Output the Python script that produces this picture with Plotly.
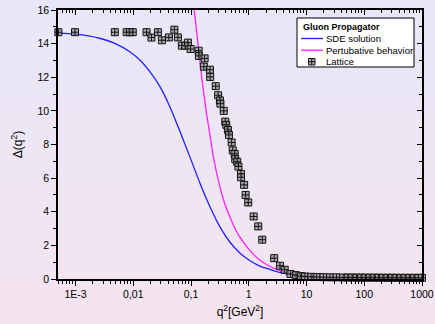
import plotly.graph_objects as go

# ---- data ----
sde_q2 = [0.0005, 0.001, 0.0026, 0.0048, 0.0087, 0.013, 0.0194, 0.029, 0.043, 0.064,
          0.096, 0.143, 0.213, 0.317, 0.47, 0.70, 1.04, 1.49, 2.17, 3.17, 4.6, 6.7,
          17, 56, 200, 1000]
sde_val = [14.62, 14.56, 14.32, 14.02, 13.52, 13.03, 12.33, 11.44, 10.25, 8.8,
           7.25, 5.7, 4.3, 3.1, 2.2, 1.55, 1.1, 0.8, 0.6, 0.42, 0.3, 0.2,
           0.08, 0.025, 0.007, 0.0015]

pert_q2 = [0.1135, 0.120, 0.152, 0.185, 0.21, 0.240, 0.296, 0.387, 0.47,
           0.577, 0.70, 1.04, 1.49, 2.17, 3.17, 4.6, 6.7, 17, 56, 200, 1000]
pert_val = [16.0, 15.3, 12.1, 9.9, 8.7, 7.4, 5.9, 4.45, 3.7,
            3.0, 2.5, 1.7, 1.18, 0.8, 0.54, 0.37, 0.25, 0.095, 0.028, 0.008, 0.0015]

lat_q2 = [0.000505, 0.00098, 0.0048, 0.0077, 0.0087, 0.0098, 0.017, 0.0207, 0.0267,
          0.0313, 0.0414, 0.0515, 0.0593, 0.0695, 0.0794, 0.0883, 0.0984, 0.1355,
          0.137, 0.172, 0.167, 0.213, 0.215, 0.268, 0.295, 0.317, 0.323, 0.369,
          0.392, 0.408, 0.436, 0.454, 0.506, 0.528, 0.570, 0.583, 0.632, 0.663,
          0.733, 0.735, 0.832, 0.883, 0.980, 1.215, 1.461, 1.715, 2.755, 3.47,
          4.19, 5.28, 6.58, 8.03, 9.43, 12, 15, 19.6, 25.5, 33, 43, 52, 62, 74,
          88, 105, 125, 150, 178, 212, 253, 302, 360, 430, 512, 611, 729, 870, 1000]
lat_val = [14.68, 14.68, 14.68, 14.68, 14.68, 14.68, 14.68, 14.36, 14.68,
           14.20, 14.37, 14.83, 14.37, 13.88, 13.88, 14.06, 13.68, 13.58,
           13.27, 13.12, 12.63, 12.45, 12.02, 11.47, 10.93, 10.62, 10.43, 10.0,
           9.36, 9.17, 8.87, 8.57, 8.12, 7.65, 7.44, 7.13, 6.97, 6.69,
           6.25, 6.05, 5.60, 5.0, 4.55, 3.72, 3.13, 2.34, 1.24, 0.79,
           0.55, 0.30, 0.23, 0.17, 0.15, 0.13, 0.12, 0.11, 0.10, 0.10, 0.09, 0.09, 0.09, 0.085,
           0.085, 0.08, 0.08, 0.08, 0.08, 0.075, 0.075, 0.075, 0.075, 0.07, 0.07, 0.07, 0.07, 0.07, 0.07]

x_major = [0.001, 0.01, 0.1, 1, 10, 100, 1000]
x_labels = ["1E-3", "0,01", "0,1", "1", "10", "100", "1000"]
y_major = [0, 2, 4, 6, 8, 10, 12, 14, 16]

legend_title = "Gluon Propagator"
legend_names = ["SDE solution", "Pertubative behavior", "Lattice"]

minor_x = []
for dec in [0.0001, 0.001, 0.01, 0.1, 1, 10, 100]:
    for k in range(2, 10):
        v = dec * k
        if 0.0005 <= v <= 1000:
            minor_x.append(v)

FONT = "Liberation Sans, Arial, sans-serif"
BLUE = "#1f1fff"
MAG = "#ff1fff"

W, H = 435, 324
ML, MR, MT, MB = 58, 13, 10, 45
PW, PH = W - ML - MR, H - MT - MB
XR = [-3.303, 3.0]


def px(x):
    return (x - ML) / PW


def py(y):
    return (H - MB - y) / PH


fig = go.Figure()
fig.add_trace(go.Scatter(x=sde_q2, y=sde_val, mode="lines", name=legend_names[0],
                         line=dict(color=BLUE, width=1.3, shape="spline", smoothing=0.8)))
fig.add_trace(go.Scatter(x=pert_q2, y=pert_val, mode="lines", name=legend_names[1],
                         line=dict(color=MAG, width=1.3, shape="spline", smoothing=0.8)))
fig.add_trace(go.Scatter(x=lat_q2, y=lat_val, mode="markers", name=legend_names[2], cliponaxis=False,
                         marker=dict(symbol="square-cross", size=7,
                                     color="rgba(150,150,150,0.75)",
                                     line=dict(color="#111", width=1))))
# invisible trace to anchor mirrored axes
fig.add_trace(go.Scatter(x=[0.001], y=[0], xaxis="x2", yaxis="y2", mode="markers",
                         marker=dict(opacity=0), showlegend=False, hoverinfo="skip"))

# gradient background
shapes = []
n = 40
top = (232, 231, 249)
bot = (244, 228, 239)
y0p = py(H)
y1p = py(0)
for i in range(n):
    t = i / (n - 1)
    c = tuple(int(round(top[j] + (bot[j] - top[j]) * t)) for j in range(3))
    ya = y1p - (y1p - y0p) * i / n
    yb = y1p - (y1p - y0p) * (i + 1) / n
    shapes.append(dict(type="rect", xref="paper", yref="paper", x0=px(0), x1=px(W),
                       y0=yb - 0.002, y1=ya + 0.002, fillcolor="rgb(%d,%d,%d)" % c,
                       line=dict(width=0), layer="below"))

# custom legend box
shapes.append(dict(type="rect", xref="paper", yref="paper", x0=px(297), x1=px(414),
                   y0=py(67), y1=py(18), fillcolor="white",
                   line=dict(color="black", width=1), layer="above"))
shapes.append(dict(type="line", xref="paper", yref="paper", x0=px(301), x1=px(323),
                   y0=py(38.5), y1=py(38.5), line=dict(color=BLUE, width=1.3)))
shapes.append(dict(type="line", xref="paper", yref="paper", x0=px(301), x1=px(323),
                   y0=py(50.2), y1=py(50.2), line=dict(color=MAG, width=1.3)))
# lattice marker sample
shapes.append(dict(type="rect", xref="paper", yref="paper", x0=px(308.5), x1=px(315),
                   y0=py(65), y1=py(58.5), fillcolor="rgba(150,150,150,0.75)",
                   line=dict(color="#111", width=1)))
shapes.append(dict(type="line", xref="paper", yref="paper", x0=px(311.75), x1=px(311.75),
                   y0=py(65), y1=py(58.5), line=dict(color="#111", width=1)))
shapes.append(dict(type="line", xref="paper", yref="paper", x0=px(308.5), x1=px(315),
                   y0=py(61.75), y1=py(61.75), line=dict(color="#111", width=1)))

annotations = [
    dict(text="<b>%s</b>" % legend_title, xref="paper", yref="paper", x=px(300.5), y=py(27),
         xanchor="left", yanchor="middle", showarrow=False, font=dict(size=9, family=FONT)),
]
for name, yy in zip(legend_names, [38.3, 50.0, 61.7]):
    annotations.append(dict(text=name, xref="paper", yref="paper", x=px(324), y=py(yy),
                            xanchor="left", yanchor="middle", showarrow=False,
                            font=dict(size=9.5, family=FONT)))

axis_common = dict(showgrid=False, zeroline=False, linecolor="black", linewidth=1.5,
                   tickcolor="black", tickwidth=1, automargin=False)

fig.update_layout(
    width=W, height=H,
    margin=dict(l=ML, r=MR, t=MT, b=MB),
    paper_bgcolor="rgb(238,230,244)",
    plot_bgcolor="rgba(0,0,0,0)",
    shapes=shapes,
    annotations=annotations,
    font=dict(family=FONT, size=10.5, color="black"),
    showlegend=False,
    xaxis=dict(type="log", range=XR, tickvals=x_major, ticktext=x_labels,
               ticks="outside", ticklen=5,
               minor=dict(tickvals=minor_x, ticks="outside", ticklen=3, tickcolor="black"),
               title=dict(text="q<sup>2</sup>[GeV<sup>2</sup>]", font=dict(size=12), standoff=8),
               showline=True, **axis_common),
    yaxis=dict(range=[0, 16], tickvals=y_major, ticks="outside", ticklen=5,
               minor=dict(dtick=1, ticks="outside", ticklen=3, tickcolor="black"),
               title=dict(text="Δ(q<sup>2</sup>)", font=dict(size=12), standoff=12),
               showline=True, **axis_common),
    xaxis2=dict(type="log", range=XR, overlaying="x", side="top",
                tickvals=x_major, showticklabels=False, ticks="inside", ticklen=5,
                minor=dict(tickvals=minor_x, ticks="inside", ticklen=3, tickcolor="black"),
                anchor="y2", showline=True, **axis_common),
    yaxis2=dict(range=[0, 16], overlaying="y", side="right", tickvals=y_major,
                showticklabels=False, ticks="inside", ticklen=5,
                minor=dict(dtick=1, ticks="inside", ticklen=3, tickcolor="black"),
                anchor="x2", showline=True, **axis_common),
)

fig.write_html("out.html")
